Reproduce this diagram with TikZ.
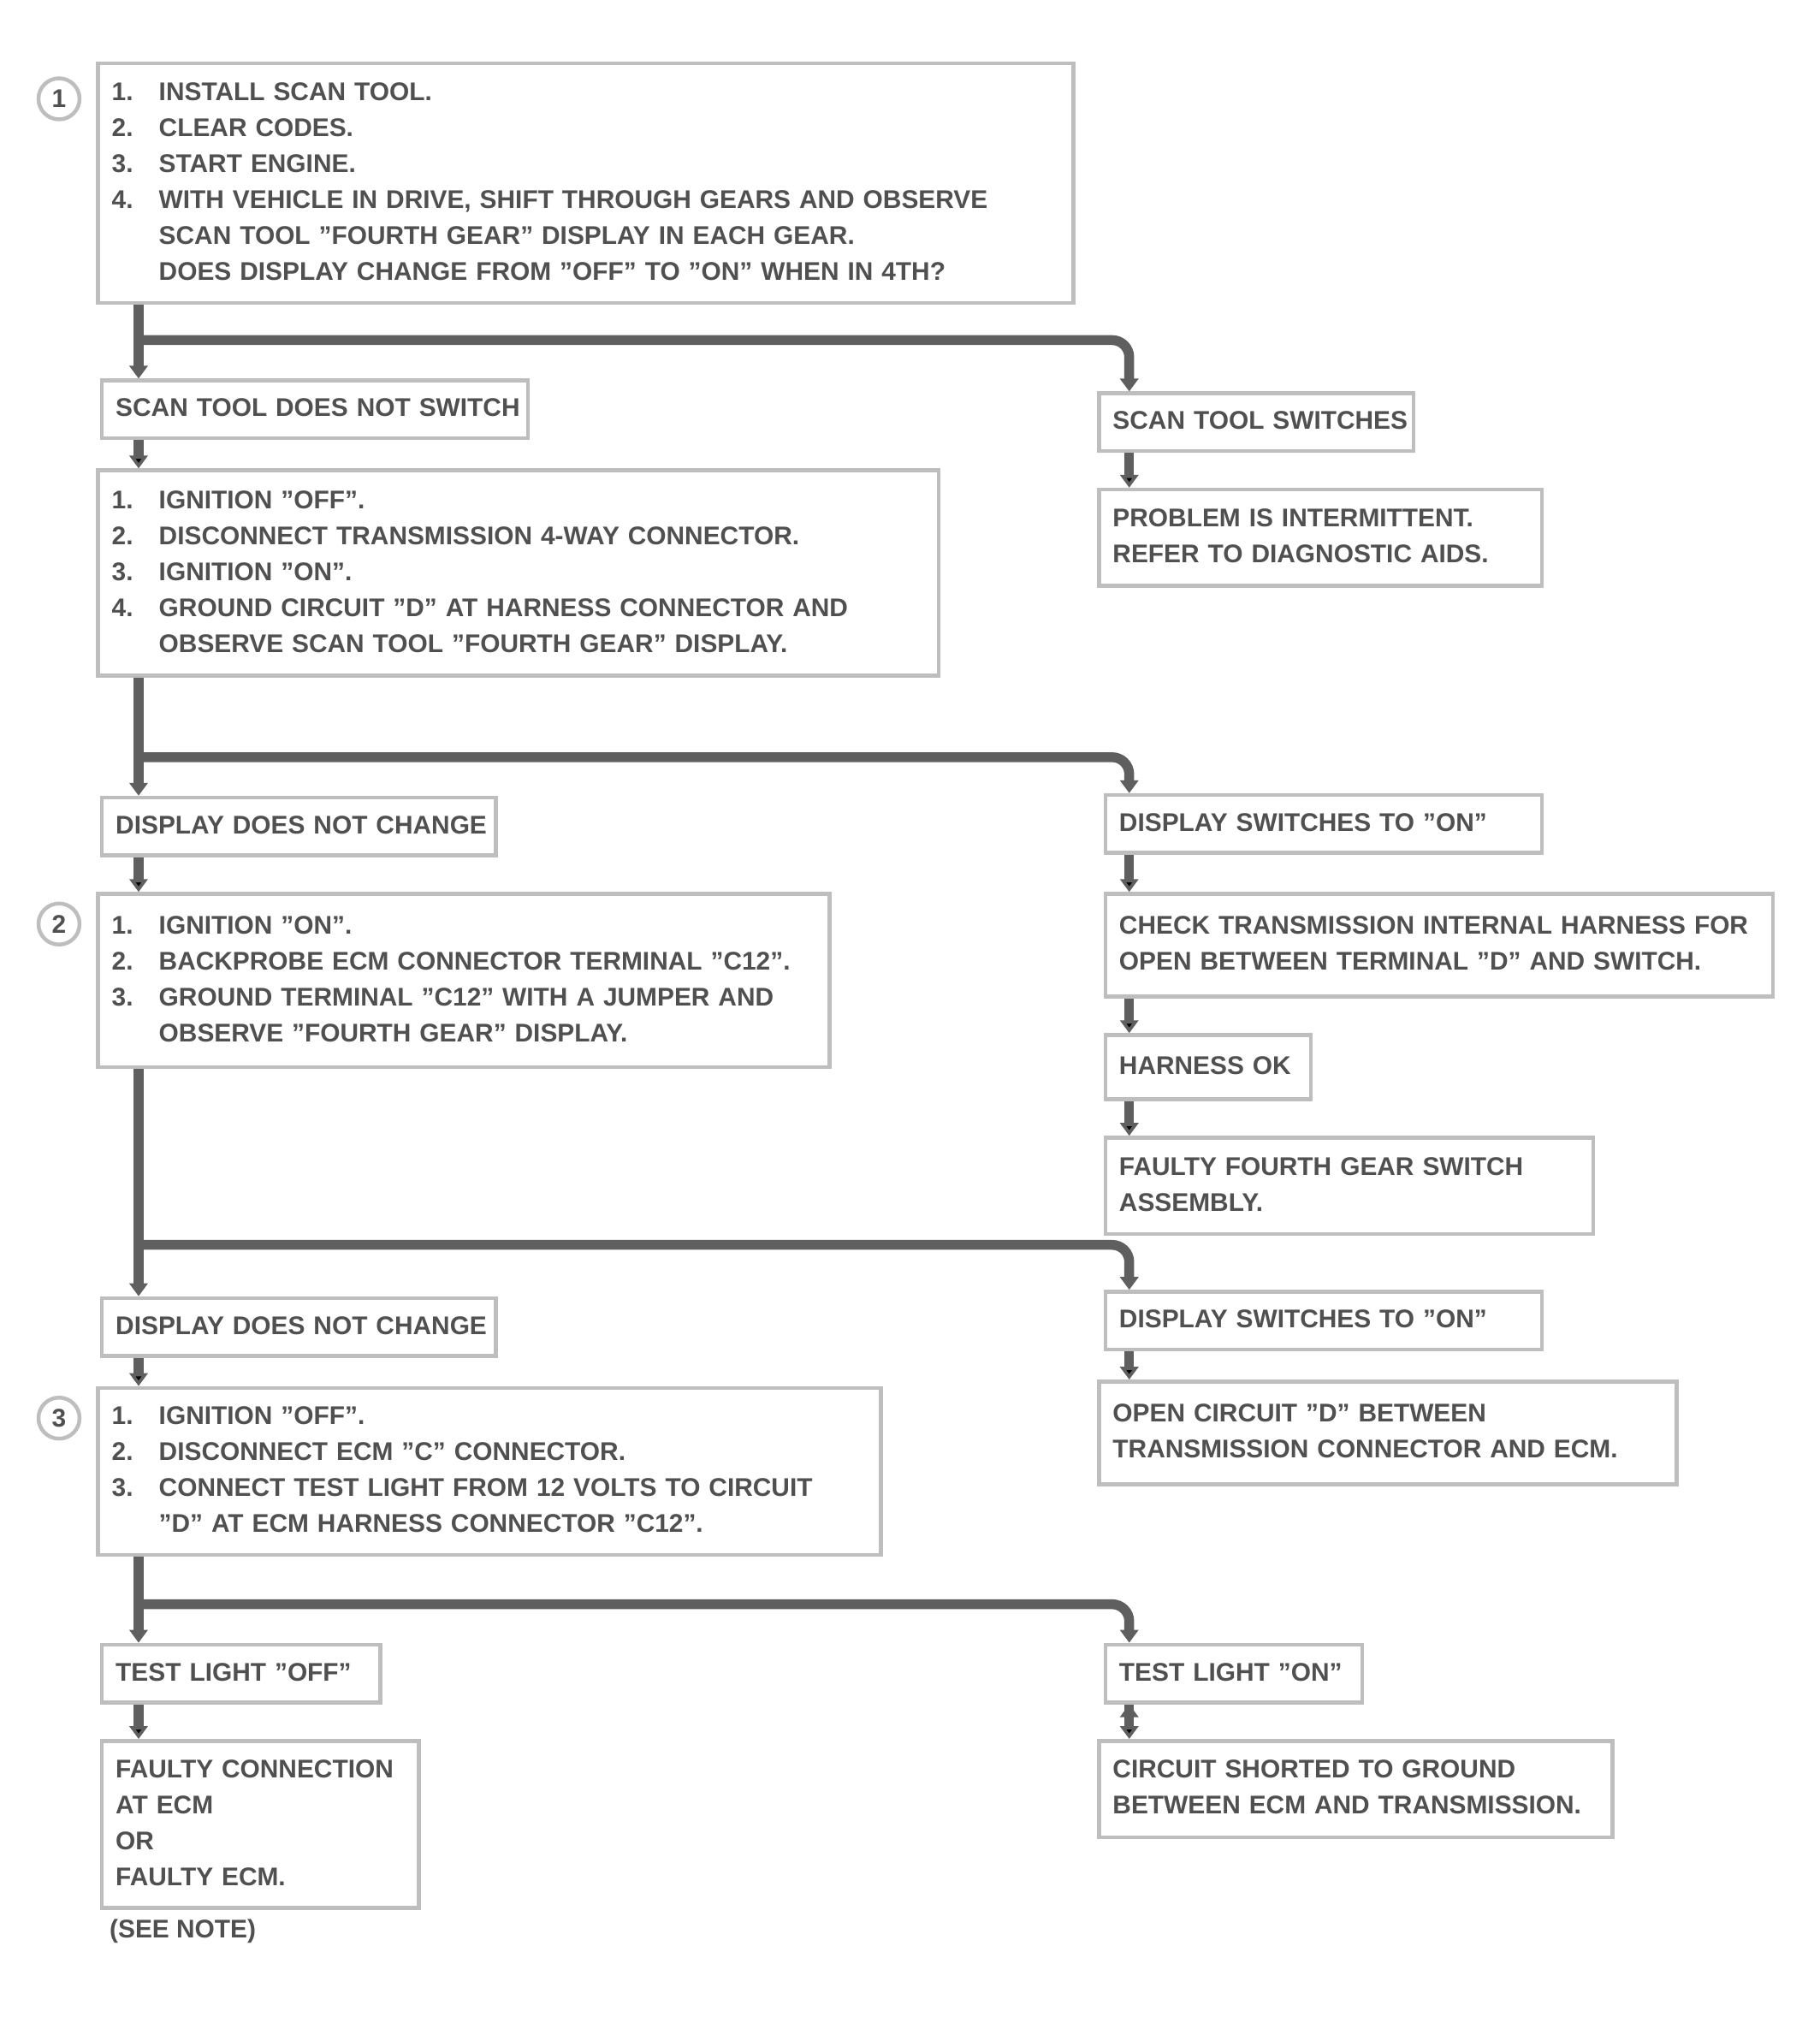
\documentclass[tikz,border=0pt]{standalone}
\usepackage{fontspec}
\setmainfont{Liberation Sans}
\usetikzlibrary{arrows.meta}
\usepackage{xcolor}
\definecolor{linegray}{RGB}{95,95,95}
\definecolor{boxgray}{RGB}{190,190,190}
\definecolor{textgray}{RGB}{80,80,80}
\newcommand{\chartfont}{\fontsize{8.5}{11.95}\selectfont\bfseries}
\newcommand{\stepno}[1]{\makebox[5.5mm][l]{#1}}
\newcommand{\boxlines}[1]{\begin{tabular}{@{}l@{}}#1\end{tabular}}

\begin{document}
\begin{tikzpicture}[x=0.15mm, y=-0.15mm, >={Triangle[width=2.1mm,length=1.5mm]}]
  \tikzstyle{box}=[draw=boxgray, line width=0.45mm, fill=white, anchor=north west,
                   inner xsep=1.6mm, inner ysep=0.8mm, font=\chartfont, text=textgray, align=left]
  \tikzstyle{callout}=[circle, draw=boxgray, line width=0.45mm, minimum size=4.8mm,
                       inner sep=0pt, font=\chartfont, text=textgray]
  \tikzstyle{flow}=[->, draw=linegray, line width=1.15mm, rounded corners=2mm]

  \useasboundingbox (0,0) rectangle (1418,1581);

  % the two trunks
  \coordinate (left)  at (108,0);
  \coordinate (right) at (880,0);

  % left column
  \node[box, text width=110.8mm, minimum height=28mm] (start) at (75,48)
    {\boxlines{\stepno{1.}INSTALL SCAN TOOL.\\
     \stepno{2.}CLEAR CODES.\\
     \stepno{3.}START ENGINE.\\
     \stepno{4.}WITH VEHICLE IN DRIVE, SHIFT THROUGH GEARS AND OBSERVE\\
     \stepno{}SCAN TOOL "FOURTH GEAR" DISPLAY IN EACH GEAR.\\
     \stepno{}DOES DISPLAY CHANGE FROM "OFF" TO "ON" WHEN IN 4TH?}};
  \node[box, text width=46.6mm, minimum height=6.75mm] (sel) at (78,295)
    {\boxlines{SCAN TOOL DOES NOT SWITCH}};
  \node[box, text width=95.05mm, minimum height=24mm] (chk2) at (75,365)
    {\boxlines{\stepno{1.}IGNITION "OFF".\\
     \stepno{2.}DISCONNECT TRANSMISSION 4-WAY CONNECTOR.\\
     \stepno{3.}IGNITION "ON".\\
     \stepno{4.}GROUND CIRCUIT "D" AT HARNESS CONNECTOR AND\\
     \stepno{}OBSERVE SCAN TOOL "FOURTH GEAR" DISPLAY.}};
  \node[box, text width=42.85mm, minimum height=6.75mm] (nochg1) at (78,620)
    {\boxlines{DISPLAY DOES NOT CHANGE}};
  \node[box, text width=82.3mm, minimum height=20.25mm] (chk3) at (75,695)
    {\boxlines{\stepno{1.}IGNITION "ON".\\
     \stepno{2.}BACKPROBE ECM CONNECTOR TERMINAL "C12".\\
     \stepno{3.}GROUND TERMINAL "C12" WITH A JUMPER AND\\
     \stepno{}OBSERVE "FOURTH GEAR" DISPLAY.}};
  \node[box, text width=42.85mm, minimum height=6.75mm] (nochg2) at (78,1010)
    {\boxlines{DISPLAY DOES NOT CHANGE}};
  \node[box, text width=88.3mm, minimum height=19.5mm] (chk4) at (75,1080)
    {\boxlines{\stepno{1.}IGNITION "OFF".\\
     \stepno{2.}DISCONNECT ECM "C" CONNECTOR.\\
     \stepno{3.}CONNECT TEST LIGHT FROM 12 VOLTS TO CIRCUIT\\
     \stepno{}"D" AT ECM HARNESS CONNECTOR "C12".}};
  \node[box, text width=29.35mm, minimum height=6.75mm] (toff) at (78,1280)
    {\boxlines{TEST LIGHT "OFF"}};
  \node[box, text width=33.85mm, minimum height=19.5mm] (ecm) at (78,1355)
    {\boxlines{FAULTY CONNECTION\\ AT ECM\\ OR\\ FAULTY ECM.}};
  \node[font=\chartfont, text=textgray, anchor=west, inner sep=0pt] (seenote) at (85,1505)
    {(SEE NOTE)};

  % right column
  \node[box, text width=33.55mm, minimum height=6.75mm] (ok2) at (855,305)
    {\boxlines{SCAN TOOL SWITCHES}};
  \node[box, text width=48.55mm, minimum height=11.25mm] (intm) at (855,380)
    {\boxlines{PROBLEM IS INTERMITTENT.\\ REFER TO DIAGNOSTIC AIDS.}};
  \node[box, text width=47.8mm, minimum height=6.75mm] (chg1) at (860,618)
    {\boxlines{DISPLAY SWITCHES TO "ON"}};
  \node[box, text width=74.8mm, minimum height=12mm] (harn) at (860,695)
    {\boxlines{CHECK TRANSMISSION INTERNAL HARNESS FOR\\ OPEN BETWEEN TERMINAL "D" AND SWITCH.}};
  \node[box, text width=20.8mm, minimum height=7.5mm] (hok) at (860,805)
    {\boxlines{HARNESS OK}};
  \node[box, text width=53.8mm, minimum height=11.25mm] (sw) at (860,885)
    {\boxlines{FAULTY FOURTH GEAR SWITCH\\ ASSEMBLY.}};
  \node[box, text width=47.8mm, minimum height=6.75mm] (chg2) at (860,1005)
    {\boxlines{DISPLAY SWITCHES TO "ON"}};
  \node[box, text width=64.3mm, minimum height=12mm] (opn) at (855,1075)
    {\boxlines{OPEN CIRCUIT "D" BETWEEN\\ TRANSMISSION CONNECTOR AND ECM.}};
  \node[box, text width=26.8mm, minimum height=6.75mm] (ton) at (860,1280)
    {\boxlines{TEST LIGHT "ON"}};
  \node[box, text width=56.8mm, minimum height=11.25mm] (gnd) at (855,1355)
    {\boxlines{CIRCUIT SHORTED TO GROUND\\ BETWEEN ECM AND TRANSMISSION.}};

  % note callouts
  \node[callout] (n1) at (46,77)   {1};
  \node[callout] (n2) at (46,720)  {2};
  \node[callout] (n3) at (46,1105) {3};

  % branch points
  \coordinate (j1) at (108,265);
  \coordinate (j2) at (108,590);
  \coordinate (j3) at (108,970);
  \coordinate (j4) at (108,1250);

  \draw[flow] (start.south -| left) -- (sel.north -| left);
  \draw[flow] (j1) -| (ok2.north -| right);
  \draw[flow] (chk2.south -| left) -- (nochg1.north -| left);
  \draw[flow] (j2) -| (chg1.north -| right);
  \draw[flow] (chk3.south -| left) -- (nochg2.north -| left);
  \draw[flow] (j3) -| (chg2.north -| right);
  \draw[flow] (chk4.south -| left) -- (toff.north -| left);
  \draw[flow] (j4) -| (ton.north -| right);

  \path[flow]
        (sel.south -| left)    edge (chk2.north -| left)
        (nochg1.south -| left) edge (chk3.north -| left)
        (nochg2.south -| left) edge (chk4.north -| left)
        (toff.south -| left)   edge (ecm.north -| left)
        (ok2.south -| right)   edge (intm.north -| right)
        (chg1.south -| right)  edge (harn.north -| right)
        (harn.south -| right)  edge (hok.north -| right)
        (hok.south -| right)   edge (sw.north -| right)
        (chg2.south -| right)  edge (opn.north -| right)
        (ton.south -| right)   edge (gnd.north -| right);
\end{tikzpicture}
\end{document}
